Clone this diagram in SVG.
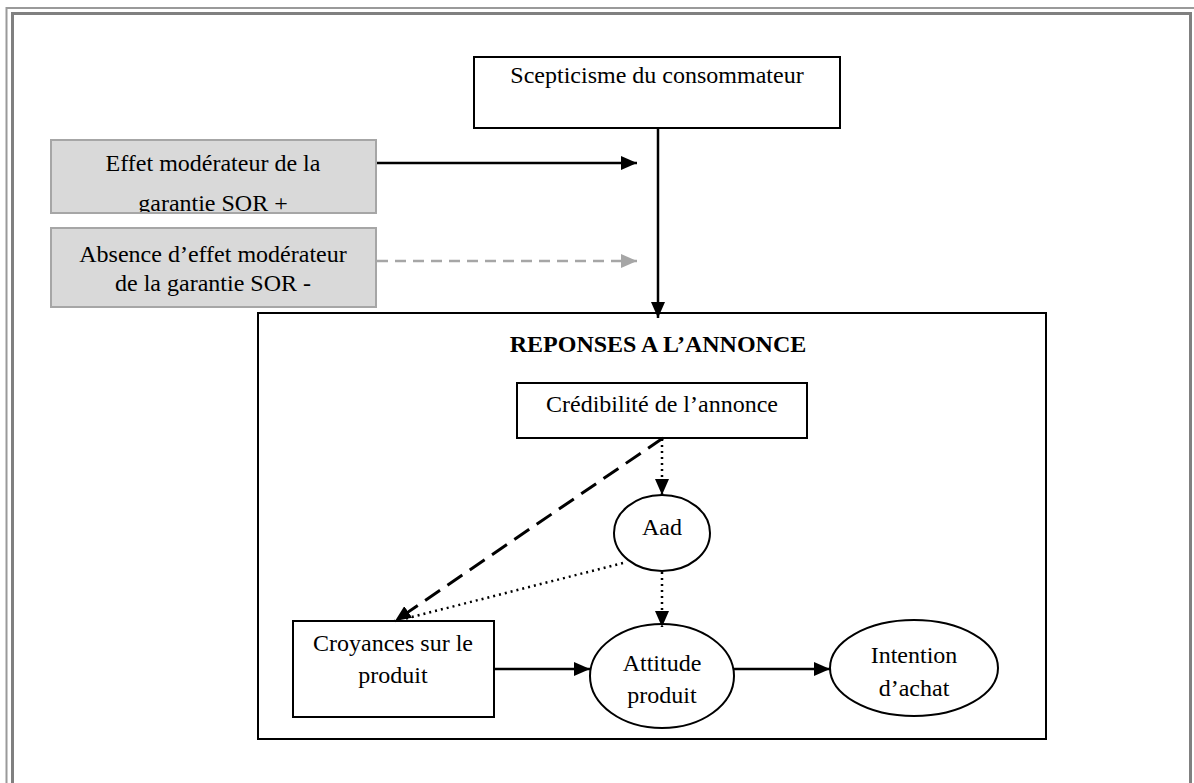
<svg xmlns="http://www.w3.org/2000/svg" width="1194" height="783" viewBox="0 0 1194 783">
<style>
.t{font-family:"Liberation Serif","Times New Roman",serif;font-size:24px;fill:#000;text-anchor:middle}
.b{font-weight:bold}
.box{fill:#fff;stroke:#000;stroke-width:2}
.gbox{fill:#d9d9d9;stroke:#a6a6a6;stroke-width:2}
.ln{stroke:#000;stroke-width:2.5;fill:none}
.dot{stroke:#000;stroke-width:2.5;fill:none;stroke-dasharray:2 4}
.dash{stroke:#000;stroke-width:3;fill:none;stroke-dasharray:18 9}
.gdash{stroke:#a6a6a6;stroke-width:2.5;fill:none;stroke-dasharray:11 7}
</style>
<defs>
<marker id="ah" markerUnits="userSpaceOnUse" markerWidth="16" markerHeight="14" refX="16" refY="7" orient="auto"><path d="M0,0 L16,7 L0,14 z" fill="#000"/></marker>
<marker id="ahg" markerUnits="userSpaceOnUse" markerWidth="16" markerHeight="14" refX="16" refY="7" orient="auto"><path d="M0,0 L16,7 L0,14 z" fill="#a6a6a6"/></marker>
<clipPath id="c1"><rect x="51" y="140" width="325" height="72"/></clipPath>
</defs>
<rect width="1194" height="783" fill="#fff"/>
<g id="frame" fill="none">
<rect x="6.5" y="8" width="1200" height="800" stroke="#9a9a9a" stroke-width="2"/>
<rect x="12.5" y="13.5" width="1178" height="800" stroke="#808080" stroke-width="3"/>
</g>
<g id="scepticisme">
<rect class="box" x="474" y="57" width="366" height="71"/>
<text class="t" x="657" y="83">Scepticisme du consommateur</text>
</g>
<g id="effet">
<rect class="gbox" x="51" y="140" width="325" height="73"/>
<g clip-path="url(#c1)">
<text class="t" x="213" y="171">Effet modérateur de la</text>
<text class="t" x="213" y="211">garantie SOR +</text>
</g>
</g>
<g id="absence">
<rect class="gbox" x="51" y="228" width="325" height="79"/>
<text class="t" x="213" y="262">Absence d’effet modérateur</text>
<text class="t" x="213" y="291">de la garantie SOR -</text>
</g>
<g id="reponses">
<rect class="box" x="258" y="313" width="788" height="426"/>
<text class="t b" x="658" y="352">REPONSES A L’ANNONCE</text>
</g>
<g id="credibilite">
<rect class="box" x="517" y="383" width="290" height="55"/>
<text class="t" x="662" y="412">Crédibilité de l’annonce</text>
</g>
<g id="aad">
<ellipse class="box" cx="662" cy="533" rx="48" ry="38"/>
<text class="t" x="662" y="535">Aad</text>
</g>
<g id="croyances">
<rect class="box" x="293" y="621" width="201" height="96"/>
<text class="t" x="393" y="651">Croyances sur le</text>
<text class="t" x="393" y="683">produit</text>
</g>
<g id="attitude">
<ellipse class="box" cx="662" cy="676" rx="72" ry="52"/>
<text class="t" x="662" y="671">Attitude</text>
<text class="t" x="662" y="703">produit</text>
</g>
<g id="intention">
<ellipse class="box" cx="914" cy="668" rx="84" ry="48"/>
<text class="t" x="914" y="663">Intention</text>
<text class="t" x="914" y="696">d’achat</text>
</g>
<g id="connectors">
<line class="ln" x1="377" y1="163" x2="637" y2="163" marker-end="url(#ah)"/>
<line class="gdash" x1="377" y1="261" x2="637" y2="261" marker-end="url(#ahg)"/>
<line class="ln" x1="658" y1="128" x2="658" y2="318" stroke-width="3" marker-end="url(#ah)"/>
<line class="dot" x1="662" y1="439" x2="662" y2="495" marker-end="url(#ah)"/>
<line class="dash" x1="663" y1="438" x2="395" y2="621" marker-end="url(#ah)"/>
<line class="dot" x1="623" y1="563" x2="404" y2="619"/>
<line class="dot" x1="662" y1="572" x2="662" y2="627" marker-end="url(#ah)"/>
<line class="ln" x1="494" y1="669" x2="590" y2="669" marker-end="url(#ah)"/>
<line class="ln" x1="734" y1="669" x2="830" y2="669" marker-end="url(#ah)"/>
</g>
</svg>
